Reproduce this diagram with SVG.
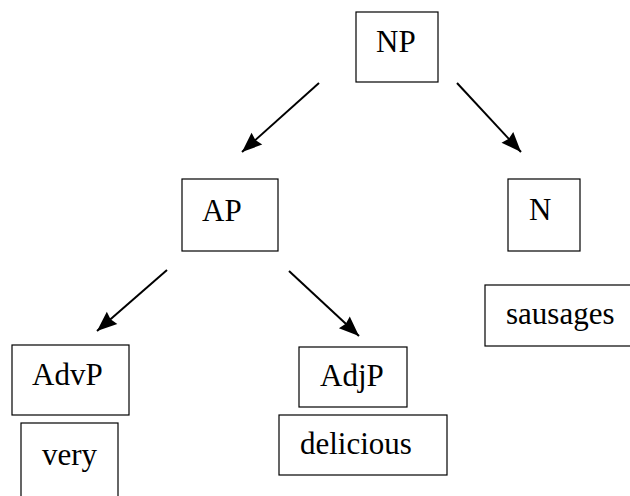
<svg xmlns="http://www.w3.org/2000/svg" width="630" height="496" viewBox="0 0 630 496">
  <style>
    .box { fill: #ffffff; stroke: #000000; stroke-width: 1.2; }
    .lbl { font-family: "Liberation Serif", "Times New Roman", Times, serif; font-size: 31px; fill: #000000; }
    .edge { stroke: #000000; stroke-width: 2; fill: none; marker-end: url(#arrow); }
  </style>
  <defs>
    <marker id="arrow" markerUnits="userSpaceOnUse" markerWidth="22" markerHeight="18" refX="20" refY="9" orient="auto" overflow="visible">
      <path d="M0,1 L20,9 L0,17 L2,9 z" fill="#000000"/>
    </marker>
  </defs>
  <rect width="630" height="496" fill="#ffffff"/>
  <g id="connectors">
    <line class="edge" x1="319" y1="83" x2="242" y2="152"/>
    <line class="edge" x1="457" y1="83" x2="521" y2="152"/>
    <line class="edge" x1="167" y1="270" x2="97" y2="331"/>
    <line class="edge" x1="289" y1="271" x2="359" y2="336"/>
  </g>
  <g id="NP">
    <rect class="box" x="356" y="12" width="82" height="70"/>
    <text class="lbl" x="376" y="52">NP</text>
  </g>
  <g id="AP">
    <rect class="box" x="182" y="179" width="96" height="72"/>
    <text class="lbl" x="202" y="221">AP</text>
  </g>
  <g id="N">
    <rect class="box" x="508" y="179" width="72" height="72"/>
    <text class="lbl" x="529" y="220">N</text>
  </g>
  <g id="sausages">
    <rect class="box" x="485" y="285" width="160" height="61"/>
    <text class="lbl" x="506" y="324">sausages</text>
  </g>
  <g id="AdvP">
    <rect class="box" x="12" y="345" width="117" height="70"/>
    <text class="lbl" x="32" y="385">AdvP</text>
  </g>
  <g id="very">
    <rect class="box" x="21" y="423" width="97" height="90"/>
    <text class="lbl" x="42" y="465">very</text>
  </g>
  <g id="AdjP">
    <rect class="box" x="299" y="347" width="108" height="60"/>
    <text class="lbl" x="320" y="386">AdjP</text>
  </g>
  <g id="delicious">
    <rect class="box" x="279" y="415" width="168" height="60"/>
    <text class="lbl" x="300" y="454">delicious</text>
  </g>
</svg>
